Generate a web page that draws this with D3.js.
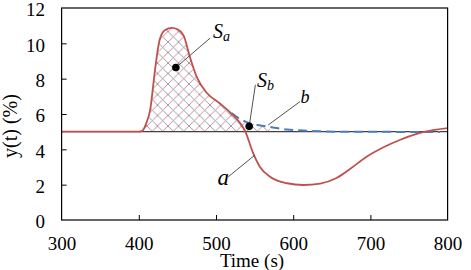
<!DOCTYPE html>
<html><head><meta charset="utf-8">
<script src="https://cdn.jsdelivr.net/npm/d3@7"></script>
<style>
html,body{margin:0;padding:0;background:#fff;}
svg{display:block;}
</style></head>
<body>
<svg id="chart" width="471" height="270"></svg>
<script>
// ---- data ----
const timeA = [300, 400, 404, 409, 415, 421, 427, 434, 443, 450, 458, 466, 475, 488, 505, 518, 531, 538, 548, 557, 570, 592, 613, 635, 656, 674, 695, 717, 738, 760, 771, 800];
const valueA = [5, 5, 5.03, 5.4, 6.3, 8.5, 10.2, 10.76, 10.88, 10.8, 10.45, 9.25, 8.1, 7.2, 6.6, 6.1, 5.5, 5.0, 3.8, 3.0, 2.45, 2.08, 1.98, 2.06, 2.38, 2.9, 3.58, 4.12, 4.53, 4.87, 5.0, 5.2];
const timeB = [520, 530, 544, 556, 570, 592, 620, 656, 700, 750, 790];
const valueB = [6.05, 5.75, 5.47, 5.36, 5.27, 5.12, 5.05, 5.0, 5.0, 4.98, 4.98];
const baseline = 5;
const xTicks = [300, 400, 500, 600, 700, 800];
const yTicks = [0, 2, 4, 6, 8, 10, 12];
const xTitle = "Time (s)";
const yTitle = "y(t) (%)";
// annotations (data units)
const dots = [{name: "Sa", t: 448, v: 8.63}, {name: "Sb", t: 543, v: 5.3}];
const leaders = [
  {t1: 448, v1: 8.63, t2: 492.5, v2: 10.3},
  {t1: 543, v1: 5.3, t2: 551, v2: 7.65},
  {t1: 567.7, v1: 5.38, t2: 608.8, v2: 6.7},
  {t1: 516, v1: 2.45, t2: 550.5, v2: 3.68}
];
const labels = [
  {main: "S", sub: "a", t: 496, v: 10.31, size: 20},
  {main: "S", sub: "b", t: 553, v: 7.55, size: 20},
  {main: "b", sub: "", t: 609.5, v: 6.6, size: 18},
  {main: "a", sub: "", t: 502, v: 2.0, size: 23}
];

// ---- layout ----
const svg = d3.select("#chart");
const FONT = '"Liberation Serif"';
const L = 61.6, R = 447.6, T = 8, B = 220;
const x = d3.scaleLinear().domain([300, 800]).range([L, R]);
const y = d3.scaleLinear().domain([0, 12]).range([B, T]);

const dataA = timeA.map((t, i) => ({t, v: valueA[i]}));
const dataB = timeB.map((t, i) => ({t, v: valueB[i]}));

// hatch pattern
const defs = svg.append("defs");
const P = 10.5;
const pat = defs.append("pattern").attr("id", "hatch").attr("patternUnits", "userSpaceOnUse")
  .attr("width", P).attr("height", P);
pat.append("path").attr("d", `M-1,${P+1} L${P+1},-1 M-${P/2+1},${P/2+1} L${P/2+1},-${P/2+1} M${P/2-1},${1.5*P+1} L${1.5*P+1},${P/2-1}`)
  .attr("stroke", "#d47a7a").attr("stroke-width", 0.9);
pat.append("path").attr("d", `M-1,-1 L${P+1},${P+1} M-${P/2+1},${P/2-1} L${P/2+1},${1.5*P+1} M${P/2-1},-${P/2+1} L${1.5*P+1},${P/2+1}`)
  .attr("stroke", "#8096b2").attr("stroke-width", 0.9);

const clip = defs.append("clipPath").attr("id", "hatchClip");
const areaA = d3.area().x(d => x(d.t)).y0(y(baseline)).y1(d => y(Math.max(d.v, baseline))).curve(d3.curveMonotoneX);
clip.append("path").attr("d", areaA(dataA.filter(d => d.t >= 400 && d.t <= 538)));
clip.append("path").attr("d", areaA(dataB.filter(d => d.t <= 570)));

svg.append("rect").attr("x", L).attr("y", T).attr("width", R - L).attr("height", B - T)
  .attr("fill", "url(#hatch)").attr("clip-path", "url(#hatchClip)");

// baseline
svg.append("line").attr("x1", x(300)).attr("x2", x(800)).attr("y1", y(baseline)).attr("y2", y(baseline))
  .attr("stroke", "#404040").attr("stroke-width", 1.3);

// curve b
const line = d3.line().x(d => x(d.t)).y(d => y(d.v)).curve(d3.curveMonotoneX);
svg.append("path").attr("d", line(dataB)).attr("fill", "none").attr("stroke", "#4a7ebb")
  .attr("stroke-width", 2).attr("stroke-dasharray", "9,5");

// curve a
svg.append("path").attr("d", line(dataA)).attr("fill", "none").attr("stroke", "#c0504d").attr("stroke-width", 1.8);

// frame
svg.append("rect").attr("x", L).attr("y", T).attr("width", R - L).attr("height", B - T)
  .attr("fill", "none").attr("stroke", "#000").attr("stroke-width", 1.2);

// axes
const xAxis = d3.axisBottom(x).tickValues(xTicks).tickSizeInner(-5).tickSizeOuter(0).tickPadding(16.5);
const gx = svg.append("g").attr("transform", `translate(0,${B})`).call(xAxis).attr("font-family", FONT);
gx.select(".domain").remove();
gx.selectAll("text").attr("font-size", 19).style("font-family", FONT).attr("fill", "#000");
gx.selectAll(".tick line").attr("stroke", "#000");
gx.selectAll(".tick").filter(d => d === 300 || d === 800).select("line").remove();

const yAxis = d3.axisLeft(y).tickValues(yTicks).tickSizeInner(-5).tickSizeOuter(0).tickPadding(16.6);
const gy = svg.append("g").attr("transform", `translate(${L},0)`).call(yAxis).attr("font-family", FONT);
gy.select(".domain").remove();
gy.selectAll("text").attr("font-size", 19).style("font-family", FONT).attr("fill", "#000").attr("dy", "0.42em");
gy.selectAll(".tick line").attr("stroke", "#000");
gy.selectAll(".tick").filter(d => d === 0 || d === 12).select("line").remove();

// titles
svg.append("text").attr("x", 252).attr("y", 267).attr("text-anchor", "middle").attr("font-size", 19).style("font-family", FONT).text(xTitle);
svg.append("text").attr("transform", "translate(17,126) rotate(-90)").attr("text-anchor", "middle").attr("font-size", 20).style("font-family", FONT).text(yTitle);

// leaders
svg.selectAll("line.leader").data(leaders).enter().append("line").attr("class", "leader")
  .attr("x1", d => x(d.t1)).attr("y1", d => y(d.v1)).attr("x2", d => x(d.t2)).attr("y2", d => y(d.v2))
  .attr("stroke", "#404040").attr("stroke-width", 0.9);

// dots
svg.selectAll("circle.dot").data(dots).enter().append("circle").attr("class", "dot")
  .attr("cx", d => x(d.t)).attr("cy", d => y(d.v)).attr("r", 3.8).attr("fill", "#000");

// labels
labels.forEach(l => {
  const tx = svg.append("text").attr("x", x(l.t)).attr("y", y(l.v)).attr("font-style", "italic")
    .attr("font-size", l.size).style("font-family", FONT);
  tx.append("tspan").text(l.main);
  if (l.sub) tx.append("tspan").attr("font-size", 14).attr("dy", 3).text(l.sub);
});
</script>
</body></html>
